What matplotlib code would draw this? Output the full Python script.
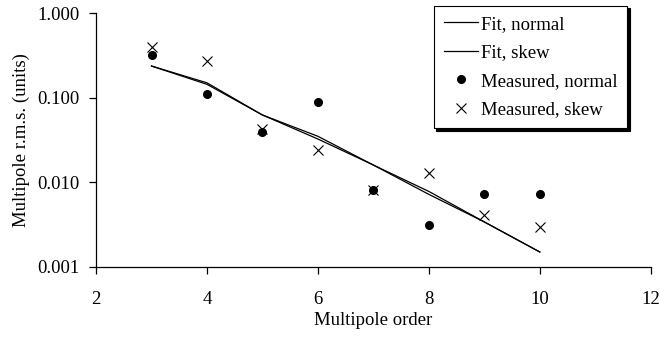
import matplotlib
matplotlib.use("Agg")
import matplotlib.pyplot as plt
from matplotlib.ticker import FixedLocator, FixedFormatter, NullLocator

plt.rcParams['font.family'] = ['Liberation Serif', 'DejaVu Serif']

orders = [3, 4, 5, 6, 7, 8, 9, 10]
fit_normal = [0.237, 0.150, 0.0625, 0.0350, 0.0160, 0.0078, 0.0034, 0.0015]
fit_skew = [0.237, 0.144, 0.0625, 0.0325, 0.0160, 0.0072, 0.0034, 0.0015]
meas_normal = [0.32, 0.11, 0.039, 0.09, 0.0081, 0.0031, 0.0072, 0.0072]
meas_skew = [0.40, 0.27, 0.043, 0.024, 0.0082, 0.013, 0.0041, 0.0030]
y_ticks = [0.001, 0.01, 0.1, 1.0]
y_labels = ["0.001", "0.010", "0.100", "1.000"]
x_ticks = [2, 4, 6, 8, 10, 12]

fs = 13.5

fig = plt.figure(figsize=(6.6, 3.37), dpi=100)
ax = fig.add_axes([0.1455, 0.208, 0.8405, 0.753])

ax.plot(orders, fit_normal, color='black', lw=0.9, label='Fit, normal')
ax.plot(orders, fit_skew, color='black', lw=0.9, label='Fit, skew')
ax.plot(orders, meas_normal, linestyle='none', marker='o', color='black',
        markersize=5.5, label='Measured, normal')
ax.plot(orders, meas_skew, linestyle='none', marker='x', color='black',
        markersize=7, markeredgewidth=0.8, label='Measured, skew')

ax.set_yscale('log')
ax.set_ylim(0.001, 1.0)
ax.set_xlim(2, 12)
ax.yaxis.set_major_locator(FixedLocator(y_ticks))
ax.yaxis.set_major_formatter(FixedFormatter(y_labels))
ax.yaxis.set_minor_locator(NullLocator())
ax.set_xticks(x_ticks)

for s in ['top', 'right']:
    ax.spines[s].set_visible(False)
for s in ['left', 'bottom']:
    ax.spines[s].set_linewidth(0.9)
ax.tick_params(axis='both', direction='out', length=5, width=0.9,
               labelsize=fs, colors='black')
ax.tick_params(axis='x', pad=12)
ax.tick_params(axis='y', pad=7)

ax.set_xlabel('Multipole order', fontsize=fs, labelpad=3)
ax.set_ylabel('Multipole r.m.s. (units)', fontsize=fs, labelpad=5)

leg = ax.legend(loc='upper right', bbox_to_anchor=(0.958, 1.03),
                borderaxespad=0, fontsize=fs, frameon=True, fancybox=False,
                shadow={'color': 'black', 'alpha': 1.0},
                edgecolor='black', framealpha=1, handlelength=1.8,
                handletextpad=0.15, labelspacing=0.6, borderpad=0.55)
leg.get_frame().set_linewidth(0.8)

fig.savefig('out.png', dpi=100)
